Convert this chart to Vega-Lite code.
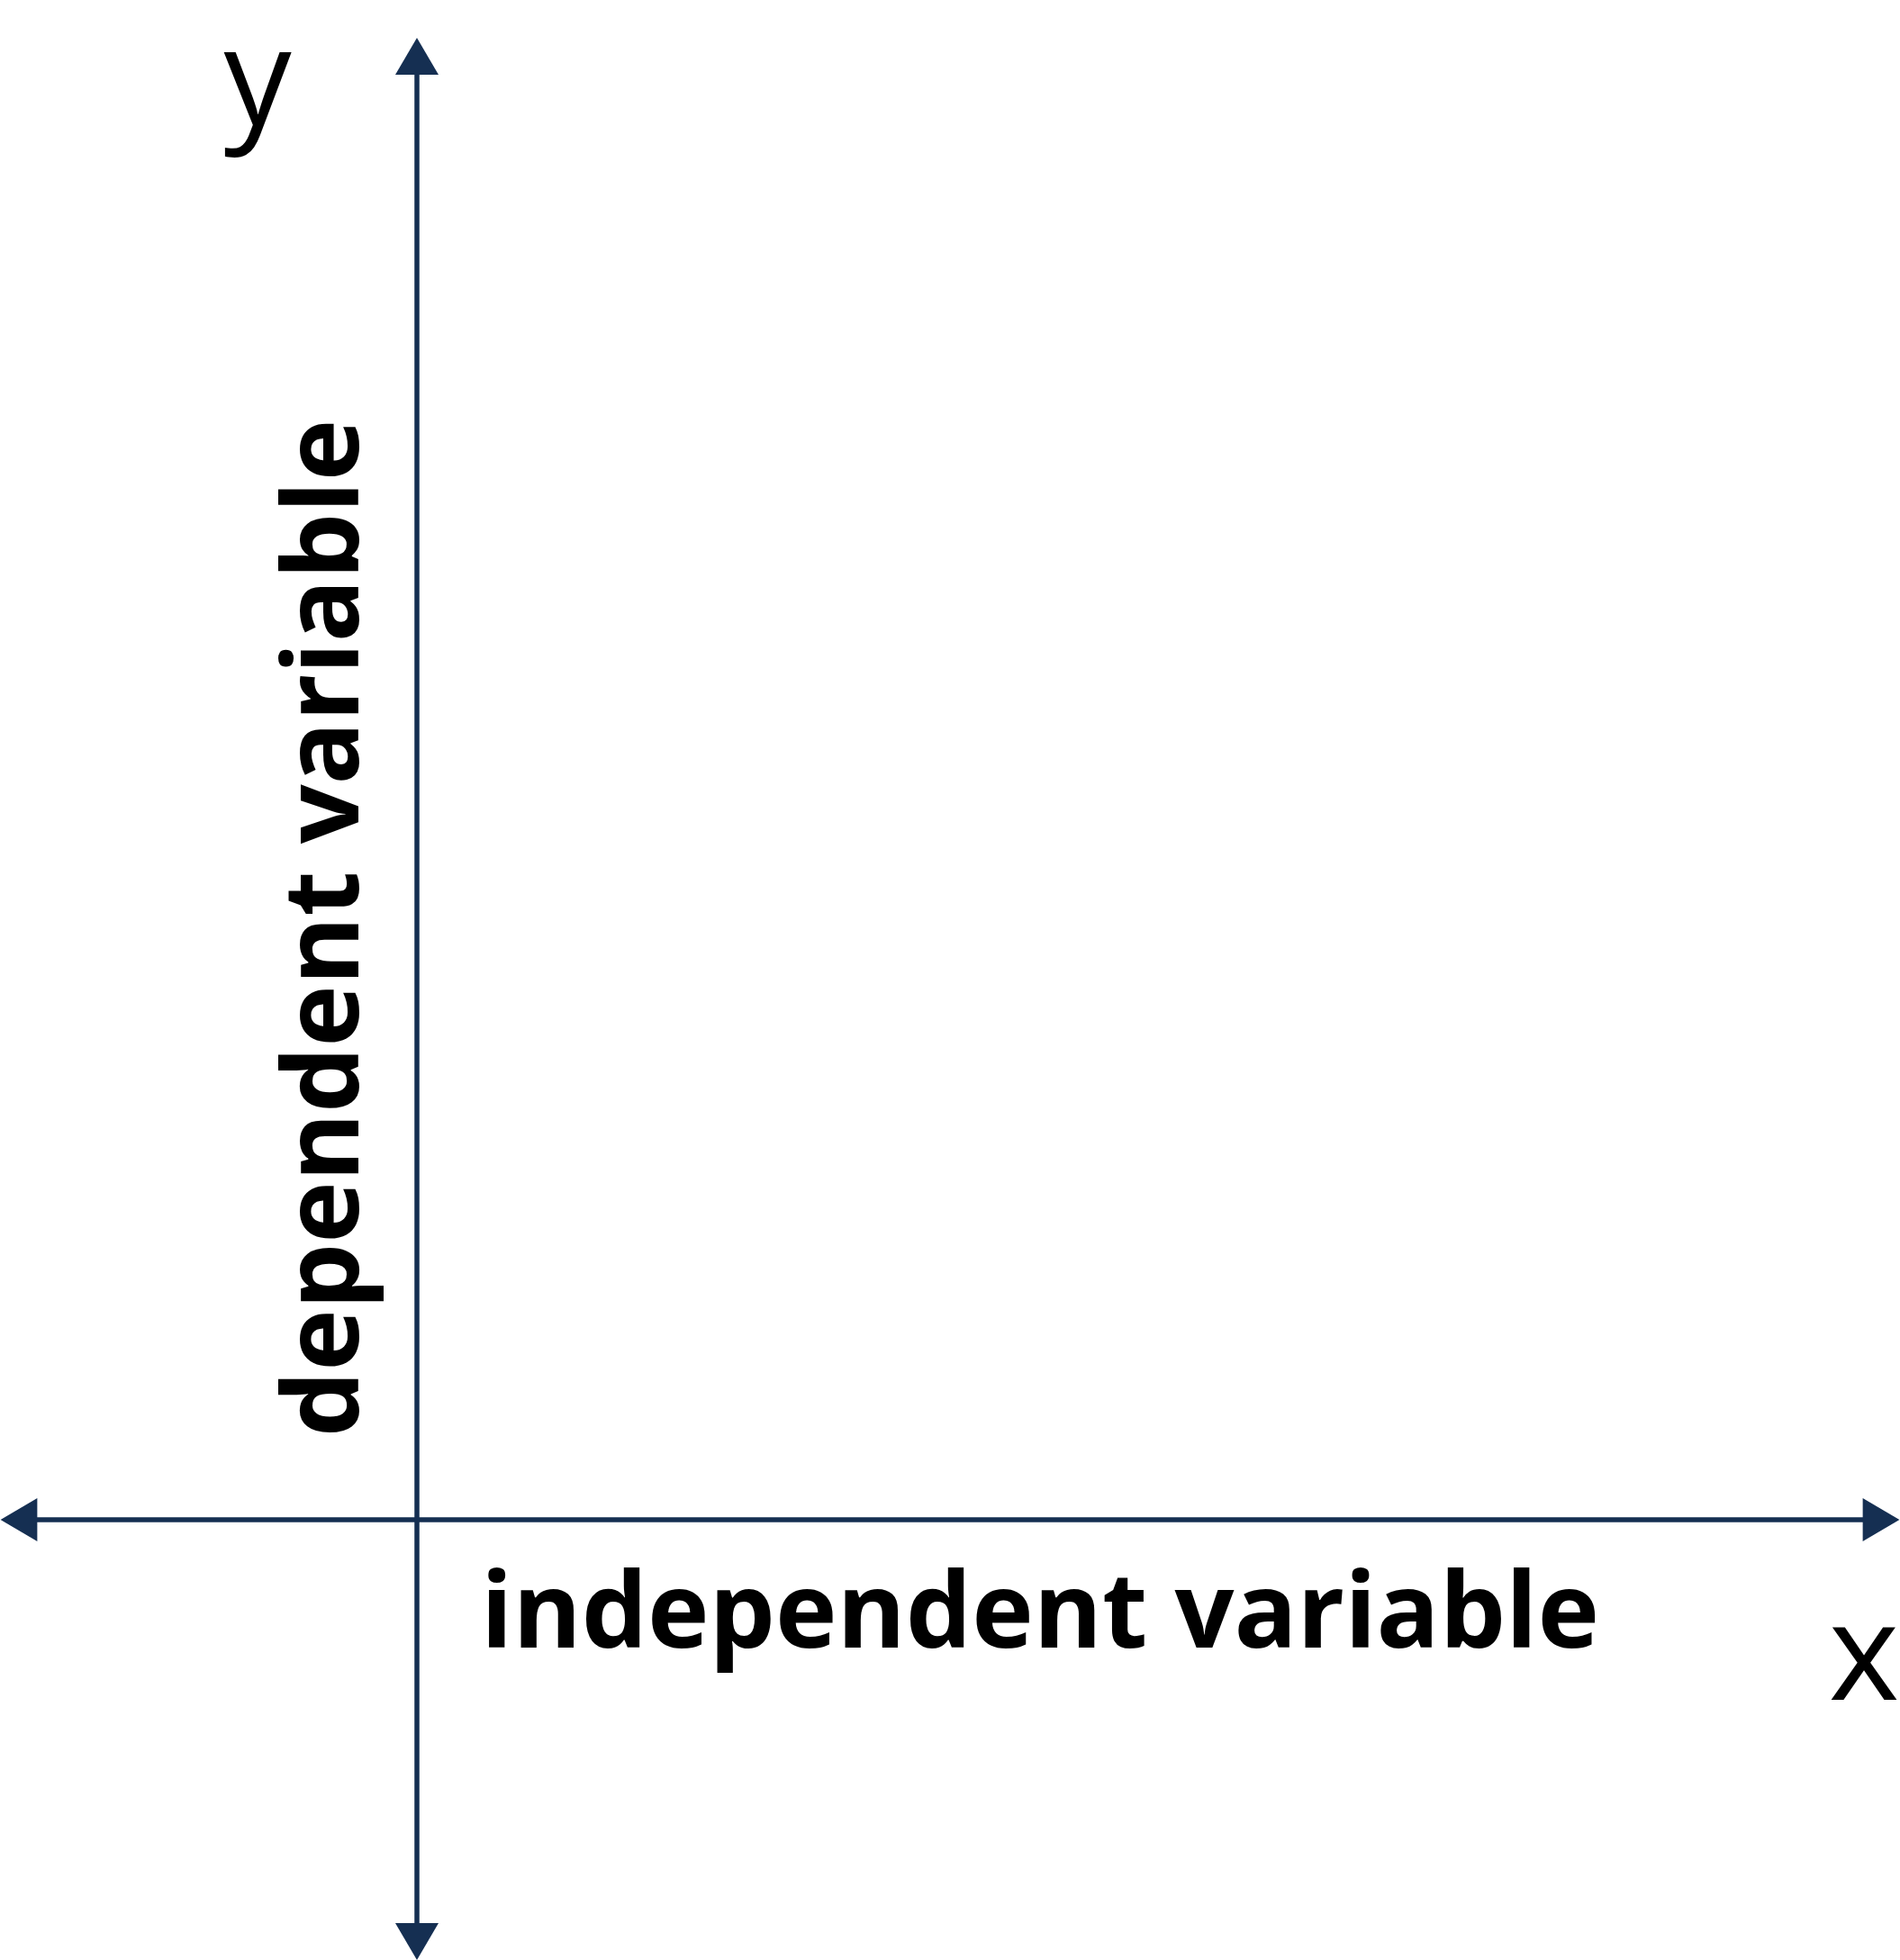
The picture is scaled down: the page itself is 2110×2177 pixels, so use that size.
{
  "$schema": "https://vega.github.io/schema/vega-lite/v6.json",
  "description": "Blank coordinate plane: independent variable on x, dependent variable on y",
  "width": 2110,
  "height": 2177,
  "padding": 0,
  "autosize": {"type": "fit", "contains": "padding"},
  "background": "white",
  "datasets": {
    "axes": [
      {"axis": "x", "x": -4.45, "x2": 16.3, "y": 0, "y2": 0},
      {"axis": "y", "x": 0, "x2": 0, "y": -4.72, "y2": 16.3}
    ],
    "arrows": [
      {"dir": "up", "x": 0, "y": 16.255},
      {"dir": "down", "x": 0, "y": -4.685},
      {"dir": "left", "x": -4.42, "y": 0},
      {"dir": "right", "x": 16.26, "y": 0}
    ],
    "letters": [
      {"label": "y", "x": -1.77, "y": 15.49},
      {"label": "x", "x": 16.07, "y": -2.0}
    ],
    "xlabel": [{"label": "independent variable", "x": 6.92, "y": -1.42}],
    "ylabel": [{"label": "dependent variable", "x": -0.65, "y": 6.57}]
  },
  "layer": [
    {
      "data": {"name": "axes"},
      "mark": {"type": "rule", "color": "#152f52", "strokeWidth": 5.5},
      "encoding": {
        "x": {"field": "x", "type": "quantitative", "scale": {"domain": [-4.63, 16.47], "nice": false, "zero": false}, "axis": null},
        "x2": {"field": "x2"},
        "y": {"field": "y", "type": "quantitative", "scale": {"domain": [-4.89, 16.88], "nice": false, "zero": false}, "axis": null},
        "y2": {"field": "y2"}
      }
    },
    {
      "data": {"name": "arrows"},
      "mark": {"type": "point", "filled": true, "opacity": 1, "size": 2304, "color": "#152f52"},
      "encoding": {
        "x": {"field": "x", "type": "quantitative", "axis": null},
        "y": {"field": "y", "type": "quantitative", "axis": null},
        "shape": {
          "field": "dir",
          "type": "nominal",
          "legend": null,
          "scale": {
            "domain": ["up", "down", "left", "right"],
            "range": [
              "M0,-0.85L1,0.85L-1,0.85Z",
              "M0,0.85L1,-0.85L-1,-0.85Z",
              "M-0.85,0L0.85,-1L0.85,1Z",
              "M0.85,0L-0.85,-1L-0.85,1Z"
            ]
          }
        }
      }
    },
    {
      "data": {"name": "letters"},
      "mark": {"type": "text", "font": "Open Sans", "fontSize": 150, "fontWeight": "normal", "color": "black", "align": "center", "baseline": "alphabetic"},
      "encoding": {
        "x": {"field": "x", "type": "quantitative", "axis": null},
        "y": {"field": "y", "type": "quantitative", "axis": null},
        "text": {"field": "label"}
      }
    },
    {
      "data": {"name": "xlabel"},
      "mark": {"type": "text", "font": "Open Sans", "fontSize": 116, "fontWeight": "bold", "color": "black", "align": "center", "baseline": "alphabetic"},
      "encoding": {
        "x": {"field": "x", "type": "quantitative", "axis": null},
        "y": {"field": "y", "type": "quantitative", "axis": null},
        "text": {"field": "label"}
      }
    },
    {
      "data": {"name": "ylabel"},
      "mark": {"type": "text", "font": "Open Sans", "fontSize": 116, "fontWeight": "bold", "color": "black", "align": "center", "baseline": "alphabetic", "angle": 270},
      "encoding": {
        "x": {"field": "x", "type": "quantitative", "axis": null},
        "y": {"field": "y", "type": "quantitative", "axis": null},
        "text": {"field": "label"}
      }
    }
  ],
  "config": {
    "view": {"stroke": null}
  }
}
